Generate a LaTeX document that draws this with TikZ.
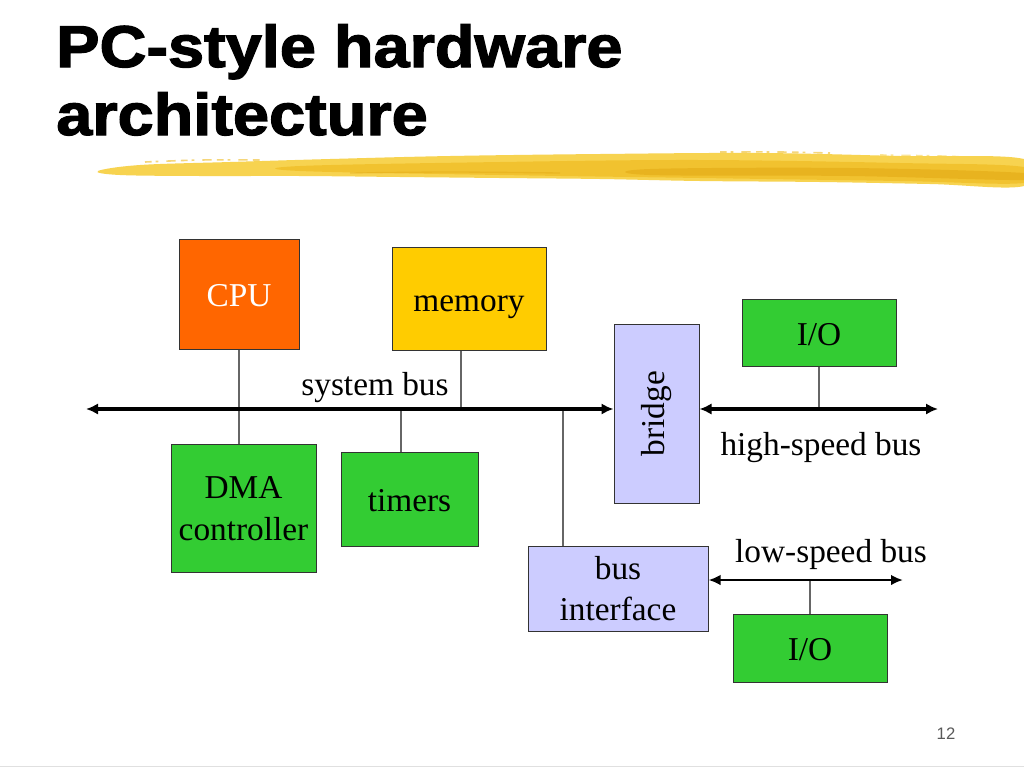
\documentclass[tikz,border=0pt]{standalone}
\usepackage{fontspec}
\usepackage{graphicx}
\setmainfont{Liberation Serif}
\newfontfamily\titlefont{Liberation Sans}
\newfontfamily\heavyfont[FakeBold=2]{Liberation Sans Bold}
\usetikzlibrary{arrows.meta}
\definecolor{cpuorange}{HTML}{FF6600}
\definecolor{memyellow}{HTML}{FFCC00}
\definecolor{iogreen}{HTML}{33CC33}
\definecolor{lavender}{HTML}{CCCCFF}
\definecolor{brushA}{HTML}{F7D350}
\definecolor{brushB}{HTML}{EFBC22}
\definecolor{brushC}{HTML}{E0A510}
\begin{document}
\begin{tikzpicture}[x=0.75pt,y=-0.75pt,
  box/.style={draw=black!80, line width=0.75pt, inner sep=0pt,
              font=\fontsize{25}{31}\selectfont, align=center},
  sz/.style 2 args={minimum width={#1*0.75pt}, minimum height={#2*0.75pt}},
  one/.style={text height=18.75pt, text depth=0pt},
  lbl/.style={font=\fontsize{25}{31}\selectfont, inner sep=0pt, anchor=base},
  ttl/.style={anchor=base west, inner sep=0pt, font=\heavyfont\fontsize{44.25}{45}\selectfont},
  bus/.style={line width=3pt, {Latex[length=9pt,width=8.5pt]}-{Latex[length=9pt,width=8.5pt]}},
  lbus/.style={line width=2.2pt, {Latex[length=9pt,width=8pt]}-{Latex[length=9pt,width=8pt]}},
  tap/.style={draw=black!60, line width=0.9pt},
  speck/.style={line width=1.2pt, opacity=0.6, dash pattern=on 5pt off 3pt on 2pt off 6pt on 7pt off 4pt},
]
\useasboundingbox (0,0) rectangle (1024,768);
\fill[white] (0,0) rectangle (1024,768);

% title
\node[ttl] (title1) at (56,67) {\scalebox{1.1}[1]{PC-style hardware}};
\node[ttl] (title2) at (56,135) {\scalebox{1.1}[1]{architecture}};

% brush stroke
\fill[brushA] plot[smooth cycle, tension=0.6] coordinates {(98,171) (140,165) (230,162) (330,159) (450,156) (600,154) (760,153) (900,156) (1024,159) (1024,186) (930,184) (820,182) (700,181) (600,179) (500,178) (400,177) (300,176) (200,176) (120,175)};
\fill[brushB, opacity=0.7] plot[smooth cycle, tension=0.6] coordinates {(300,166) (500,162) (700,160) (900,163) (1024,167) (1024,183) (900,181) (700,178) (500,175) (300,171)};
\fill[brushC, opacity=0.5] plot[smooth cycle, tension=0.6] coordinates {(650,169) (850,168) (1024,173) (1024,180) (850,176) (650,175)};
\draw[brushB, speck] plot[smooth] coordinates {(145,162) (200,160) (260,160)};
\draw[brushB, speck] plot[smooth] coordinates {(720,152) (780,152) (830,153)};
\draw[brushA, speck] plot[smooth] coordinates {(880,155) (940,156) (990,158)};
\draw[brushC, line width=1pt, opacity=0.4] plot[smooth] coordinates {(350,173) (450,172) (560,173)};

% boxes
\node[box, one, sz={120}{110}, fill=cpuorange, text=white] (cpu) at (239,294) {CPU};
\node[box, one, sz={154}{103}, fill=memyellow] (mem) at (469,298.5) {memory};
\node[box, one, sz={154}{67}, fill=iogreen] (io1) at (819,332.5) {I/O};
\node[box, sz={85}{179}, fill=lavender] (bridge) at (656.5,413.5) {\rotatebox{90}{bridge}};
\node[box, sz={145}{128}, fill=iogreen] (dma) at (243.5,508.5) {DMA\\controller};
\node[box, one, sz={137}{94}, fill=iogreen] (tm) at (409.5,499) {timers};
\node[box, sz={180}{85}, fill=lavender] (bi) at (618,588.5) {bus\\interface};
\node[box, one, sz={154}{68}, fill=iogreen] (io2) at (810,648) {I/O};

% bus coordinates
\coordinate (sysL) at (86,409);
\coordinate (hsR) at (938,409);
\coordinate (lsR) at (903,580);
\coordinate (memT) at (461,409);
\coordinate (tmT) at (401,409);
\coordinate (biT) at (563,409);

% taps
\draw[tap] (cpu.south) -- (cpu.south |- dma.north);
\draw[tap] (memT |- mem.south) -- (memT);
\draw[tap] (tmT) -- (tmT |- tm.north);
\draw[tap] (biT) -- (biT |- bi.north);
\draw[tap] (io1.south) -- (io1.south |- hsR);
\draw[tap] (io2.north) -- (io2.north |- lsR);

% buses
\draw[bus] (sysL) -- (sysL -| bridge.west);
\draw[bus] (bridge.east |- hsR) -- (hsR);
\draw[lbus] (bi.east |- lsR) -- (lsR);

% labels
\node[lbl] (sysbus) at (375,395) {system bus};
\node[lbl] (hsbus) at (821,455) {high-speed bus};
\node[lbl] (lsbus) at (831,562) {low-speed bus};

% page number and footer line
\node[anchor=base, inner sep=0pt, text=black!65, font=\titlefont\fontsize{12.5}{14}\selectfont] (pgno) at (946,739) {12};
\draw[black!12, line width=0.75pt] (0,766) -- (1024,766);
\end{tikzpicture}
\end{document}
